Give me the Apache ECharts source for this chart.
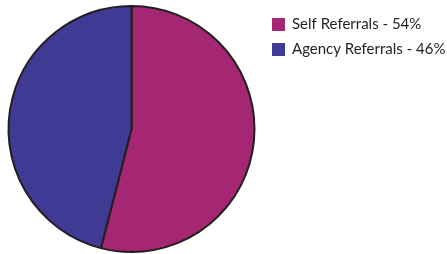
<!doctype html>
<html>
    <head>
        <meta charset="utf-8">
        <style>
            html, body { margin: 0; padding: 0; background: #fff; }
            #main { width: 447px; height: 254px; }
        </style>
    </head>
    <body>
        <div id="main"></div>
        <script src="https://cdn.jsdelivr.net/npm/echarts@6/dist/echarts.min.js"></script>
        <script>
            var categories = ['Self Referrals', 'Agency Referrals'];
            var values = [54, 46];
            var colors = ['#A52672', '#3F3A93'];

            var chart = echarts.init(document.getElementById('main'));

            var data = categories.map(function (name, i) {
                return { name: name, value: values[i], itemStyle: { color: colors[i] } };
            });

            chart.setOption({
                animation: false,
                legend: {
                    orient: 'vertical',
                    left: 267,
                    top: 12,
                    icon: 'rect',
                    itemWidth: 13,
                    itemHeight: 13,
                    itemGap: 10,
                    selectedMode: false,
                    itemStyle: { borderWidth: 0 },
                    textStyle: {
                        fontFamily: 'Lato',
                        fontSize: 15,
                        lineHeight: 15,
                        color: '#231F20',
                        padding: [0, 0, 0, 2]
                    },
                    formatter: function (name) {
                        var i = categories.indexOf(name);
                        return name + ' - ' + values[i] + '%';
                    },
                    data: categories
                },
                series: [{
                    type: 'pie',
                    center: [131.5, 129],
                    radius: 123,
                    startAngle: 90,
                    clockwise: true,
                    silent: true,
                    label: { show: false },
                    labelLine: { show: false },
                    itemStyle: {
                        borderColor: '#231F20',
                        borderWidth: 2
                    },
                    data: data
                }]
            });
        </script>
    </body>
</html>
